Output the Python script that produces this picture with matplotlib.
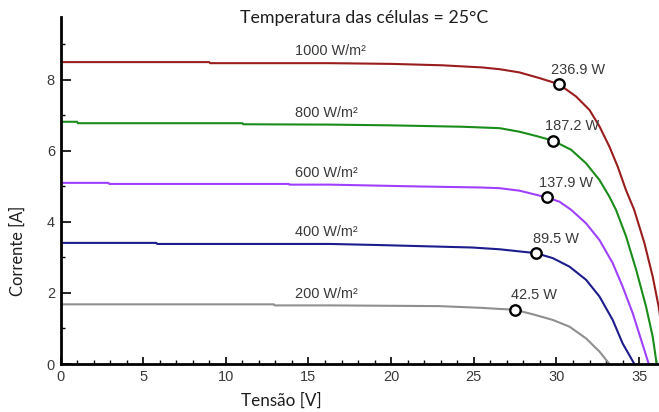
import numpy as np
import matplotlib
matplotlib.use("Agg")
import matplotlib.pyplot as plt
from matplotlib.ticker import MultipleLocator

# ---- data ----
irradiance_labels = ["1000 W/m²", "800 W/m²", "600 W/m²", "400 W/m²", "200 W/m²"]

v_1000 = [0, 9.0, 9.05, 16.3, 20.0, 23.1, 25.5, 26.56, 27.76, 28.97, 30.14, 31.19, 32.0, 32.6, 33.2, 33.7, 34.2, 34.7, 35.32, 35.82, 36.18, 36.7]
i_1000 = [8.50, 8.50, 8.47, 8.47, 8.45, 8.41, 8.35, 8.30, 8.21, 8.05, 7.88, 7.53, 7.15, 6.69, 6.12, 5.56, 4.90, 4.34, 3.40, 2.46, 1.61, 0.0]

v_800 = [0, 1.0, 1.05, 11.0, 11.05, 16.3, 19.9, 24.3, 26.56, 27.76, 28.77, 29.78, 30.89, 31.79, 32.6, 33.2, 33.6, 34.21, 34.82, 35.42, 35.82, 36.06]
i_800 = [6.82, 6.82, 6.78, 6.78, 6.75, 6.74, 6.72, 6.68, 6.64, 6.54, 6.42, 6.29, 6.03, 5.65, 5.18, 4.71, 4.34, 3.59, 2.65, 1.61, 0.77, 0.0]

v_600 = [0, 2.9, 2.95, 13.8, 13.85, 16.3, 21.5, 25.4, 26.56, 27.76, 29.42, 30.18, 30.89, 31.79, 32.6, 33.4, 34.0, 34.61, 35.12, 35.58]
i_600 = [5.10, 5.10, 5.07, 5.07, 5.05, 5.05, 5.00, 4.97, 4.95, 4.88, 4.69, 4.57, 4.34, 3.96, 3.49, 2.84, 2.18, 1.43, 0.68, 0.0]

v_400 = [0, 5.8, 5.85, 16.3, 19.2, 24.9, 26.56, 28.77, 29.78, 30.79, 31.79, 32.6, 33.4, 34.0, 34.71]
i_400 = [3.41, 3.41, 3.38, 3.38, 3.35, 3.28, 3.23, 3.12, 2.98, 2.74, 2.37, 1.90, 1.24, 0.58, 0.0]

v_200 = [0, 12.9, 12.95, 16.3, 22.9, 25.5, 26.56, 27.46, 28.57, 29.78, 30.79, 31.79, 32.6, 33.2]
i_200 = [1.68, 1.68, 1.65, 1.65, 1.63, 1.58, 1.55, 1.53, 1.40, 1.24, 1.05, 0.72, 0.35, 0.0]

mpp_v = [30.14, 29.78, 29.42, 28.77, 27.46]
mpp_i = [7.88, 6.29, 4.69, 3.12, 1.53]
mpp_power = ["236.9 W", "187.2 W", "137.9 W", "89.5 W", "42.5 W"]

curves_v = [v_1000, v_800, v_600, v_400, v_200]
curves_i = [i_1000, i_800, i_600, i_400, i_200]
colors = ["#9a1d1d", "#1a8c1a", "#a040ff", "#1c1c8c", "#8f8f8f"]

# ---- figure ----
DPI = 100
fig = plt.figure(figsize=(6.59, 4.12), dpi=DPI)
ax = fig.add_axes([60.5 / 659, 48 / 412, (659 - 60.5) / 659, (364 - 17) / 412])
renderer = fig.canvas.get_renderer()


def fit_size(text, family, target_px, base=10.0):
    t = fig.text(0, 0, text, family=family, size=base)
    w = t.get_window_extent(renderer).width
    t.remove()
    return base * target_px / w


small_family = ["Liberation Sans", "DejaVu Sans"]
small_size = fit_size("236.9 W", small_family, 54)
tick_font = dict(family=small_family, size=small_size, color="#3a3a3a")

for v, i, c in zip(curves_v, curves_i, colors):
    ax.plot(v, i, color=c, lw=1.5, solid_joinstyle="round", zorder=2)

ax.plot(mpp_v, mpp_i, linestyle="none", marker="o", ms=7.5, mfc="white",
        mec="black", mew=1.7, zorder=4)

for vx, iy, lab in zip(mpp_v, mpp_i, mpp_power):
    ax.annotate(lab, (vx, iy), xytext=(14, 10.5), textcoords="offset points",
                ha="center", va="center", **tick_font, zorder=5)

label_v = 14.2
for v, i, lab in zip(curves_v, curves_i, irradiance_labels):
    y0 = np.interp(label_v, v, i)
    ax.annotate(lab, (label_v, y0), xytext=(0, 8.5), textcoords="offset points",
                ha="left", va="center", **tick_font, zorder=5)

ax.set_xlim(0, 36.2)
ax.set_ylim(0, 9.77)

ax.xaxis.set_major_locator(MultipleLocator(5))
ax.xaxis.set_minor_locator(MultipleLocator(1))
ax.yaxis.set_major_locator(MultipleLocator(2))
ax.yaxis.set_minor_locator(MultipleLocator(1))

for s in ["top", "right"]:
    ax.spines[s].set_visible(False)
for s in ["left", "bottom"]:
    ax.spines[s].set_linewidth(2.0)
    ax.spines[s].set_color("black")

ax.tick_params(axis="x", which="major", direction="in", length=5, width=1.2, pad=4)
ax.tick_params(axis="y", which="major", direction="in", length=7, width=1.2, pad=4)
ax.tick_params(which="minor", direction="in", length=3, width=1.0)
for lbl in ax.get_xticklabels() + ax.get_yticklabels():
    lbl.set_fontfamily(tick_font["family"])
    lbl.set_fontsize(tick_font["size"])
    lbl.set_color(tick_font["color"])

big_family = ["Lato", "DejaVu Sans"]
title_txt = "Temperatura das células = 25°C"
xlab_txt = "Tensão [V]"
ylab_txt = "Corrente [A]"
fig.text(281 / 659, 1 - 401 / 412, xlab_txt, ha="center", va="center",
         family=big_family, size=fit_size(xlab_txt, big_family, 81), color="#1e1e1e")
fig.text(18 / 659, 1 - 250.5 / 412, ylab_txt, ha="center", va="center", rotation=90,
         family=big_family, size=fit_size(ylab_txt, big_family, 91), color="#1e1e1e")
fig.text(364 / 659, 1 - 18 / 412, title_txt, ha="center", va="center",
         family=big_family, size=fit_size(title_txt, big_family, 248), color="#1e1e1e")

fig.savefig("out.png", dpi=DPI)
